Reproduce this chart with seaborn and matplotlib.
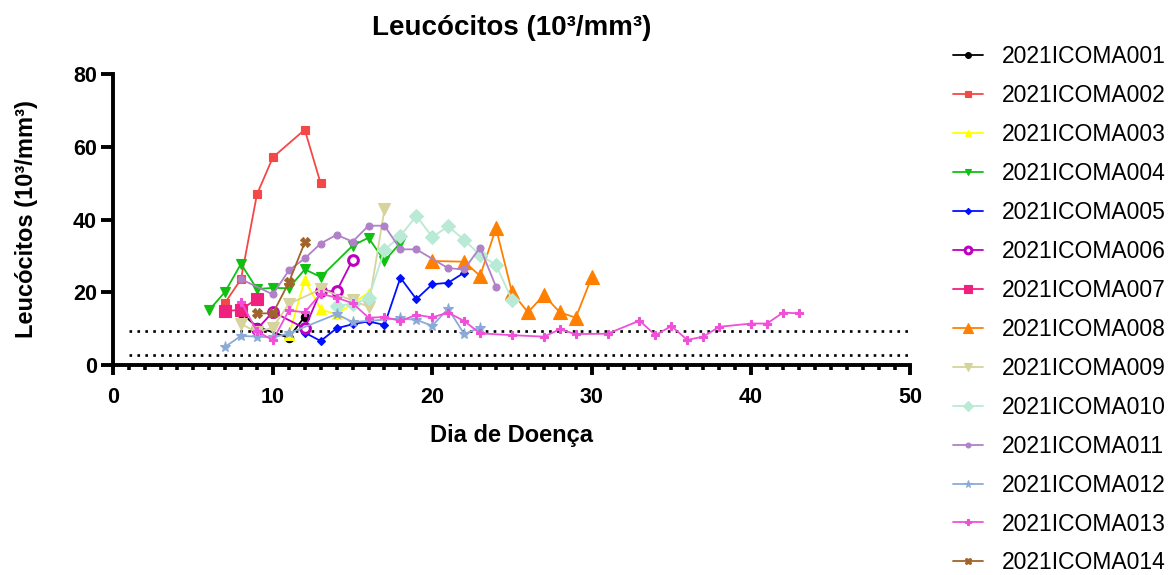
import numpy as np
import pandas as pd
import seaborn as sns
import matplotlib
matplotlib.use("Agg")
import matplotlib.pyplot as plt
from matplotlib.ticker import MultipleLocator

# values (day of illness, leukocytes 10^3/mm^3)
days_001 = [8, 9, 11, 12]
wbc_001 = [14.4, 10.5, 7.5, 13.3]
days_002 = [7, 8, 9, 10, 12, 13]
wbc_002 = [17.1, 23.6, 46.9, 57.1, 64.7, 49.9]
days_003 = [11, 12, 13, 14, 16]
wbc_003 = [8.2, 23.4, 15.3, 13.9, 19.9]
days_004 = [6, 7, 8, 9, 10, 11, 12, 13, 15, 16, 17, 18]
wbc_004 = [15.1, 20.1, 27.8, 20.9, 21.2, 21.1, 26.3, 24.2, 32.8, 35.0, 28.6, 33.6]
days_005 = [12, 13, 14, 15, 16, 17, 18, 19, 20, 21, 22]
wbc_005 = [8.9, 6.6, 10.1, 11.2, 12.0, 11.0, 24.0, 18.1, 22.2, 22.6, 25.4]
days_006 = [9, 10, 12, 13, 14, 15]
wbc_006 = [9.8, 14.6, 10.1, 20.3, 20.3, 28.9]
days_007 = [7, 8, 9]
wbc_007 = [14.8, 15.2, 18.2]
days_008 = [20, 22, 23, 24, 25, 26, 27, 28, 29, 30]
wbc_008 = [28.6, 28.4, 24.5, 37.6, 20.0, 14.5, 19.2, 14.5, 13.0, 24.1]
days_009 = [8, 9, 10, 11, 13, 15, 16, 17]
wbc_009 = [11.3, 9.0, 10.3, 16.8, 20.8, 17.8, 16.0, 42.8]
days_010 = [14, 15, 16, 17, 18, 19, 20, 21, 22, 23, 24, 25]
wbc_010 = [16.3, 16.8, 18.3, 31.6, 35.5, 41.0, 35.2, 38.1, 34.4, 30.2, 27.5, 17.9]
days_011 = [8, 10, 11, 12, 13, 14, 15, 16, 17, 18, 19, 21, 22, 23, 24]
wbc_011 = [23.6, 19.4, 26.0, 29.3, 33.4, 35.8, 33.9, 38.3, 38.3, 31.8, 31.8, 26.6, 26.3, 32.3, 21.5]
days_012 = [7, 8, 9, 10, 11, 14, 15, 18, 19, 20, 21, 22, 23]
wbc_012 = [5.0, 8.0, 7.8, 7.6, 8.7, 14.0, 11.8, 12.8, 12.4, 10.8, 15.5, 8.5, 10.3]
days_013 = [8, 9, 10, 11, 12, 13, 14, 15, 16, 17, 18, 19, 20, 21, 22, 23, 25, 27,
            28, 29, 31, 33, 34, 35, 36, 37, 38, 40, 41, 42, 43]
wbc_013 = [17.4, 9.3, 6.8, 15.0, 14.5, 19.6, 18.5, 17.0, 13.0, 13.2, 12.1, 13.8, 13.1,
           14.4, 12.1, 8.7, 8.2, 7.8, 9.8, 8.5, 8.6, 12.2, 8.2, 10.7, 6.9, 7.8, 10.5,
           11.4, 11.4, 14.4, 14.2]
days_014 = [9, 10, 11, 12]
wbc_014 = [14.2, 14.2, 22.7, 33.7]

ref_lines = [9.35, 2.8]

patients = ["2021ICOMA%03d" % i for i in range(1, 15)]
all_days = [days_001, days_002, days_003, days_004, days_005, days_006, days_007,
            days_008, days_009, days_010, days_011, days_012, days_013, days_014]
all_wbc = [wbc_001, wbc_002, wbc_003, wbc_004, wbc_005, wbc_006, wbc_007,
           wbc_008, wbc_009, wbc_010, wbc_011, wbc_012, wbc_013, wbc_014]

df = pd.concat([pd.DataFrame({"dia": d, "leuco": w, "paciente": p})
                for p, d, w in zip(patients, all_days, all_wbc)], ignore_index=True)

colors = ["#000000", "#F44848", "#FFFF00", "#10C010", "#0010FF", "#C000C0", "#F0207F",
          "#FF8000", "#D6D49C", "#B8EAD6", "#B080C8", "#8CAAD8", "#F050D8", "#A0642A"]
markers = ["o", "s", "^", "v", "D", "o", "s", "^", "v", "D", "o", "*", "P", "X"]
sizes = [6, 6, 7, 7, 4.5, 7, 9, 9.5, 9, 7, 5, 8, 5.5, 6.5]

sns.set_style("ticks")
plt.rcParams["font.family"] = ["Liberation Sans", "DejaVu Sans"]
plt.rcParams["text.color"] = "black"
plt.rcParams["axes.labelcolor"] = "black"
plt.rcParams["xtick.color"] = "black"
plt.rcParams["ytick.color"] = "black"
plt.rcParams["axes.edgecolor"] = "black"

fig = plt.figure(figsize=(11.76, 5.75), dpi=100)
ax = fig.add_axes([0.0965, 0.3652, 0.6777, 0.5061])

for ref in ref_lines:
    ax.hlines(ref, 1, 50, colors="black", linewidth=1.9, linestyles=(0, (1, 2)), zorder=1)

for i, p in enumerate(patients):
    sub = df[df["paciente"] == p]
    kw = dict(marker=markers[i], markersize=sizes[i], markeredgecolor=colors[i],
              markeredgewidth=0.8)
    if i == 5:
        kw.update(markerfacecolor="white", markeredgewidth=2.2)
    sns.lineplot(data=sub, x="dia", y="leuco", ax=ax, color=colors[i], linewidth=1.3,
                 estimator=None, label=p, zorder=3 + i, **kw)

ax.set_xlim(0, 50)
ax.set_ylim(0, 80)
ax.xaxis.set_major_locator(MultipleLocator(10))
ax.xaxis.set_minor_locator(MultipleLocator(1))
ax.yaxis.set_major_locator(MultipleLocator(20))
for s in ["top", "right"]:
    ax.spines[s].set_visible(False)
for s in ["left", "bottom"]:
    ax.spines[s].set_linewidth(2.8)
ax.tick_params(axis="x", which="major", length=7.5, width=2.8, labelsize=15.5, pad=8)
ax.tick_params(axis="x", which="minor", length=3.8, width=2.6)
ax.tick_params(axis="y", which="major", length=9, width=2.8, labelsize=15.5, pad=3)
for lab in ax.get_xticklabels() + ax.get_yticklabels():
    lab.set_fontweight("bold")

ax.set_title("Leucócitos (10³/mm³)", fontsize=20, fontweight="bold", pad=28)
ax.set_xlabel("Dia de Doença", fontsize=17, fontweight="bold", labelpad=12)
ax.set_ylabel("Leucócitos (10³/mm³)", fontsize=17, fontweight="bold", labelpad=25)

ax.legend(loc="upper left", bbox_to_anchor=(0.803, 0.937), bbox_transform=fig.transFigure,
          frameon=False, fontsize=16.5, handlelength=1.3, handletextpad=0.8,
          labelspacing=0.695, borderaxespad=0, markerscale=0.7)

fig.savefig("out.png", dpi=100)
